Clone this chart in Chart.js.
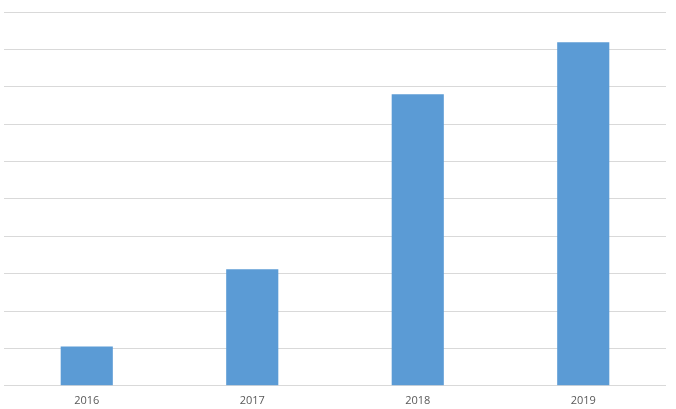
<!DOCTYPE html>
<html>
<head>
<meta charset="utf-8">
<script src="https://cdn.jsdelivr.net/npm/chart.js@4/dist/chart.umd.min.js"></script>
<style>
  html, body { margin: 0; padding: 0; background: #fff; }
</style>
</head>
<body>
<canvas id="salesChart" width="676" height="409"></canvas>
<script>
const years = ['2016', '2017', '2018', '2019'];
const values = [1.05, 3.12, 7.8, 9.19];

const config = {
    type: 'bar',
    data: {
        labels: years,
        datasets: [{
            data: values,
            backgroundColor: '#5b9bd5',
            categoryPercentage: 1,
            barPercentage: 0.315
        }]
    },
    options: {
        responsive: false,
        animation: false,
        layout: {
            padding: { left: 4, right: 10, top: 12, bottom: -6 }
        },
        plugins: {
            legend: { display: false },
            tooltip: { enabled: false }
        },
        scales: {
            x: {
                grid: { display: false, drawTicks: false },
                border: { display: false },
                ticks: {
                    color: '#595959',
                    font: { family: 'Open Sans', size: 11 },
                    padding: 8
                }
            },
            y: {
                min: 0,
                max: 10,
                grid: { color: '#d9d9d9', drawTicks: false, lineWidth: 1 },
                border: { display: false },
                ticks: { display: false, stepSize: 1 }
            }
        }
    }
};

new Chart(document.getElementById('salesChart'), config);
</script>
</body>
</html>
